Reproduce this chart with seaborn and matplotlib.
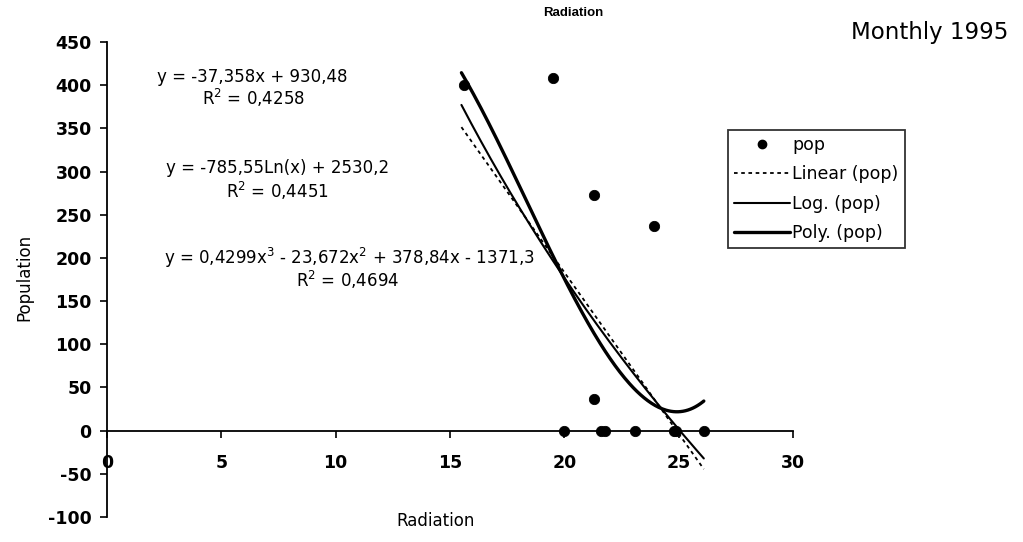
import numpy as np
import pandas as pd
import matplotlib
matplotlib.use("Agg")
import matplotlib.pyplot as plt
import seaborn as sns
from matplotlib.lines import Line2D

# ---- data ----
radiation = [15.6, 19.5, 21.3, 23.9, 21.3, 20.0, 21.6, 21.8, 23.1, 24.8, 24.9, 26.1]
population = [400, 408, 273, 237, 37, 0, 0, 0, 0, 0, 0, 0]

lin_coef = [-37.358, 930.48]                    # y = a x + b
log_coef = [-785.55, 2530.2]                    # y = a ln(x) + b
poly_coef = [0.4299, -23.672, 378.84, -1371.3]  # cubic

eq_labels = ["y = -37,358x + 930,48", "R$^2$ = 0,4258",
             "y = -785,55Ln(x) + 2530,2", "R$^2$ = 0,4451",
             "y = 0,4299x$^3$ - 23,672x$^2$ + 378,84x - 1371,3", "R$^2$ = 0,4694"]
x_ticks = [0, 5, 10, 15, 20, 25, 30]
y_ticks = [-100, -50, 0, 50, 100, 150, 200, 250, 300, 350, 400, 450]
legend_labels = ["pop", "Linear (pop)", "Log. (pop)", "Poly. (pop)"]

sns.set_theme(style="white")
plt.rcParams['font.family'] = ['DejaVu Sans']
plt.rcParams['axes.unicode_minus'] = False
plt.rcParams['mathtext.fontset'] = 'dejavusans'
plt.rcParams['text.color'] = 'black'
plt.rcParams['axes.labelcolor'] = 'black'
plt.rcParams['xtick.color'] = 'black'
plt.rcParams['ytick.color'] = 'black'

fig = plt.figure(figsize=(10.23, 5.42), dpi=100)
ax = fig.add_axes([107/1023, 1-517/542, 686/1023, 475/542])

df = pd.DataFrame({"Radiation": radiation, "Population": population})
xs = np.linspace(min(radiation) - 0.1, max(radiation), 200)
trend = pd.DataFrame({
    "x": xs,
    "lin": np.polyval(lin_coef, xs),
    "log": log_coef[0] * np.log(xs) + log_coef[1],
    "poly": np.polyval(poly_coef, xs),
})

sns.lineplot(data=trend, x="x", y="lin", ax=ax, color="black", lw=1.3,
             linestyle=(0, (2, 2)))
sns.lineplot(data=trend, x="x", y="log", ax=ax, color="black", lw=1.5)
sns.lineplot(data=trend, x="x", y="poly", ax=ax, color="black", lw=2.4)
sns.scatterplot(data=df, x="Radiation", y="Population", ax=ax, color="black",
                s=55, marker="o", edgecolor="black", zorder=5)

ax.set_xlim(0, 30)
ax.set_ylim(-100, 450)
ax.set_xticks(x_ticks)
ax.set_yticks(y_ticks)
ax.set_xlabel("")
ax.set_ylabel("")
for s in ["top", "right"]:
    ax.spines[s].set_visible(False)
ax.spines["left"].set_position(("data", 0))
ax.spines["bottom"].set_position(("data", 0))
for s in ["left", "bottom"]:
    ax.spines[s].set_color("black")
    ax.spines[s].set_linewidth(1.3)
ax.tick_params(axis="y", direction="out", length=5, width=1.2, colors="black",
               labelsize=12.5, pad=6, left=True)
ax.tick_params(axis="x", direction="out", length=5, width=1.2, colors="black",
               labelsize=12.5, pad=12, bottom=True)
for lab in ax.get_xticklabels() + ax.get_yticklabels():
    lab.set_fontweight("bold")

# equation texts
eq_pos = [(252, 77), (254, 98), (278, 168), (277, 191), (349, 258), (348, 280)]
for (px, py), t in zip(eq_pos, eq_labels):
    fig.text(px/1023, 1-py/542, t, ha="center", va="center", fontsize=12,
             color="black")

fig.text(573/1023, 1-13/542, "Radiation", ha="center", va="center",
         fontsize=9.5, fontweight="bold", family="Liberation Sans", color="black")
fig.text(930/1023, 1-32/542, "Monthly 1995", ha="center", va="center",
         fontsize=16.5, color="black")
fig.text(436/1023, 1-521/542, "Radiation", ha="center", va="center",
         fontsize=12, color="black")
fig.text(24/1023, 1-277/542, "Population", ha="center", va="center",
         rotation=90, fontsize=12, color="black")

handles = [
    Line2D([], [], marker="o", color="black", linestyle="none", markersize=6),
    Line2D([], [], color="black", lw=1.3, linestyle=(0, (2, 2))),
    Line2D([], [], color="black", lw=1.5),
    Line2D([], [], color="black", lw=2.4),
]
leg = fig.legend(handles, legend_labels, loc="upper left",
                 bbox_to_anchor=(728/1023, 1-130/542), bbox_transform=fig.transFigure,
                 frameon=True, fancybox=False, fontsize=12.5, handlelength=3.2,
                 handletextpad=0.15, labelspacing=0.65, borderpad=0.35,
                 borderaxespad=0)
leg.get_frame().set_edgecolor("black")
leg.get_frame().set_linewidth(1.3)
for t in leg.get_texts():
    t.set_color("black")

fig.savefig("out.png", dpi=100)
